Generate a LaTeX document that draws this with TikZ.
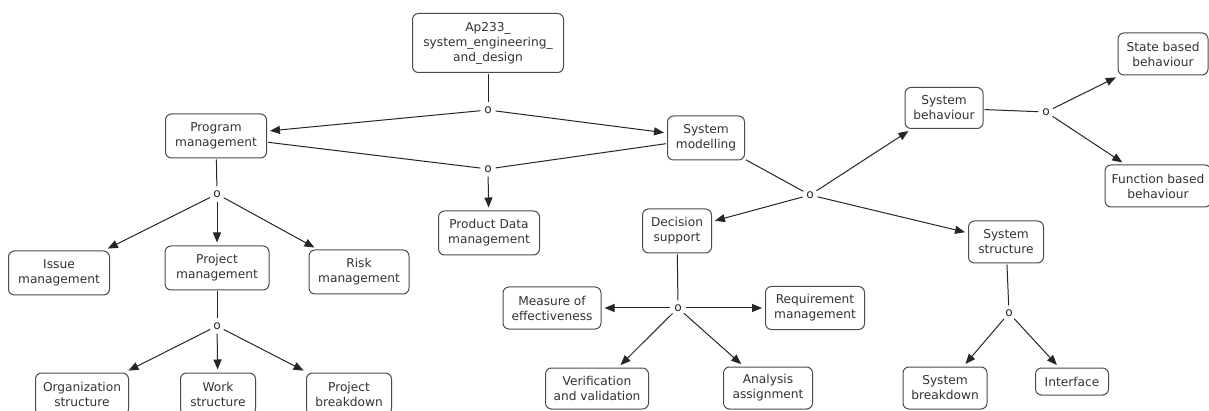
\documentclass[tikz,border=0pt]{standalone}
\usepackage{fontspec}
\setmainfont{DejaVu Sans}
\usetikzlibrary{arrows.meta}
\newcommand\dfont{\fontsize{12.2}{15}\selectfont}
\tikzset{
  box/.style={draw=black!70, line width=1pt, rounded corners=6pt, fill=white,
    align=center, font=\dfont, text=black!80, inner sep=1pt, outer sep=1.5pt},
  jn/.style={circle, minimum size=15pt, inner sep=0pt, font=\dfont, text=black!85},
  ln/.style={draw=black!85, line width=1pt},
  arr/.style={ln, -{Triangle[length=10pt,width=8pt]}, shorten >=2pt},
}
\begin{document}
\begin{tikzpicture}[x=1pt,y=-1pt]
\useasboundingbox (0,0) rectangle (1209,411);
\clip (0,0) rectangle (1209,411);
\fill[white] (0,0) rectangle (1209,411);
% boxes
\node[box, minimum width=151pt, minimum height=59pt] (ap) at (488,43) {Ap233\_\\system\_engineering\_\\and\_design};
\node[box, minimum width=101pt, minimum height=44pt] (prog) at (216,136) {Program\\management};
\node[box, minimum width=77pt, minimum height=44pt] (sysmod) at (706,138) {System\\modelling};
\node[box, minimum width=101pt, minimum height=44pt] (pdm) at (489,233) {Product Data\\management};
\node[box, minimum width=69pt, minimum height=44pt] (dec) at (677,231) {Decision\\support};
\node[box, minimum width=75pt, minimum height=42pt] (sysstr) at (1006,242) {System\\structure};
\node[box, minimum width=78pt, minimum height=41pt] (sysbeh) at (944,108) {System\\behaviour};
\node[box, minimum width=90pt, minimum height=42pt] (state) at (1163,54) {State based\\behaviour};
\node[box, minimum width=106pt, minimum height=42pt] (func) at (1158,186) {Function based\\behaviour};
\node[box, minimum width=101pt, minimum height=44pt] (issue) at (59,273) {Issue\\management};
\node[box, minimum width=104pt, minimum height=44pt] (proj) at (217,268) {Project\\management};
\node[box, minimum width=100pt, minimum height=44pt] (risk) at (359,272) {Risk\\management};
\node[box, minimum width=93pt, minimum height=42pt] (org) at (82,394) {Organization\\structure};
\node[box, minimum width=75pt, minimum height=42pt] (work) at (218,394) {Work\\structure};
\node[box, minimum width=85pt, minimum height=42pt] (pbd) at (349,394) {Project\\breakdown};
\node[box, minimum width=98pt, minimum height=42pt] (moe) at (552,308) {Measure of\\effectiveness};
\node[box, minimum width=99pt, minimum height=43pt] (req) at (815,308) {Requirement\\management};
\node[box, minimum width=103pt, minimum height=41pt] (ver) at (597,388.5) {Verification\\and validation};
\node[box, minimum width=89pt, minimum height=42pt] (ana) at (768,388) {Analysis\\assignment};
\node[box, minimum width=84pt, minimum height=42pt] (sbd) at (945,388) {System\\breakdown};
\node[box, minimum width=73pt, minimum height=27pt] (intf) at (1072,381.5) {Interface};
% junctions
\node[jn] (j1) at (488,110) {o};
\node[jn] (j2) at (488,169) {o};
\node[jn] (j3) at (810,195) {o};
\node[jn] (j4) at (1046,112) {o};
\node[jn] (j5) at (217,194) {o};
\node[jn] (j6) at (217,326) {o};
\node[jn] (j7) at (678,308) {o};
\node[jn] (j8) at (1009,313) {o};
% connectors
\draw[ln] (ap) -- (j1);
\draw[arr] (j1) -- (prog);
\draw[arr] (j1) -- (sysmod);
\draw[ln] (prog) -- (j2);
\draw[ln] (sysmod) -- (j2);
\draw[arr] (j2) -- (pdm);
\draw[ln] (sysmod) -- (j3);
\draw[arr] (j3) -- (dec);
\draw[arr] (j3) -- (sysbeh);
\draw[arr] (j3) -- (sysstr);
\draw[ln] (sysbeh) -- (j4);
\draw[arr] (j4) -- (state);
\draw[arr] (j4) -- (func);
\draw[ln] (prog) -- (j5);
\draw[arr] (j5) -- (issue);
\draw[arr] (j5) -- (proj);
\draw[arr] (j5) -- (risk);
\draw[ln] (proj) -- (j6);
\draw[arr] (j6) -- (org);
\draw[arr] (j6) -- (work);
\draw[arr] (j6) -- (pbd);
\draw[ln] (dec) -- (j7);
\draw[arr] (j7) -- (moe);
\draw[arr] (j7) -- (req);
\draw[arr] (j7) -- (ver);
\draw[arr] (j7) -- (ana);
\draw[ln] (sysstr) -- (j8);
\draw[arr] (j8) -- (sbd);
\draw[arr] (j8) -- (intf);
\end{tikzpicture}
\end{document}
